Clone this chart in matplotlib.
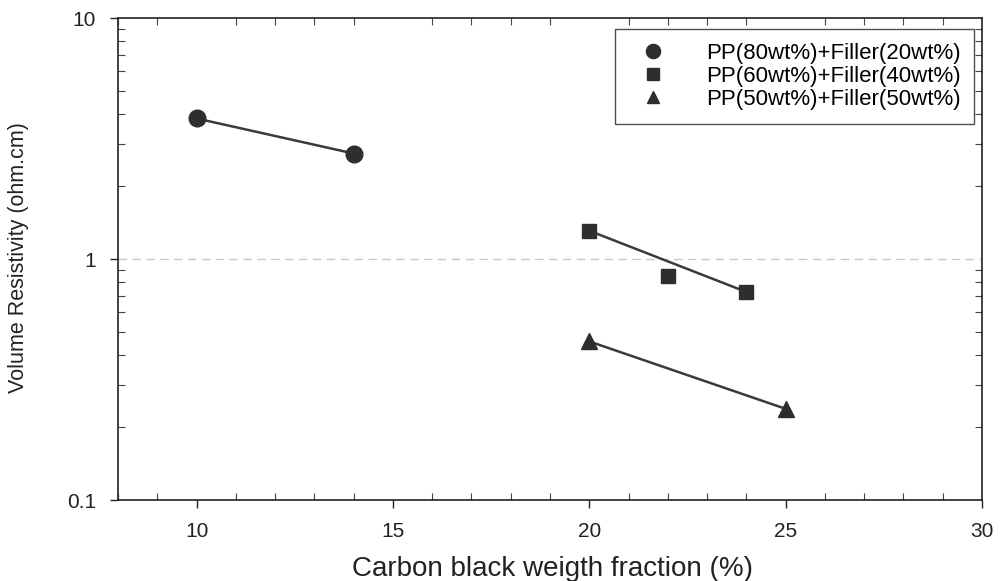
import matplotlib
matplotlib.use("Agg")
import matplotlib.pyplot as plt
from matplotlib.ticker import MultipleLocator, LogLocator, NullFormatter
import numpy as np

plt.rcParams['font.family'] = ['Liberation Sans', 'DejaVu Sans']

labels = ["PP(80wt%)+Filler(20wt%)", "PP(60wt%)+Filler(40wt%)", "PP(50wt%)+Filler(50wt%)"]
x_80 = [10, 14]
y_80 = [3.83, 2.74]
x_60 = [20, 22, 24]
y_60 = [1.31, 0.85, 0.73]
x_50 = [20, 25]
y_50 = [0.455, 0.239]
markers = ['o', 's', '^']
col = '#2e2e2e'

fig = plt.figure(figsize=(10.02, 5.81), dpi=100)
ax = fig.add_axes([0.1178, 0.1394, 0.8622, 0.8296])
ax.set_yscale('log')
ax.set_xlim(8, 30)
ax.set_ylim(0.1, 10)

ax.axhline(1, color='#c8c8c8', lw=1.0, ls=(0, (6, 4)), zorder=0)

series = [(x_80, y_80), (x_60, y_60), (x_50, y_50)]
sizes = [12, 10, 11]
for (xs, ys), m, lab, s in zip(series, markers, labels, sizes):
    ax.plot([xs[0], xs[-1]], [ys[0], ys[-1]], color='#3a3a3a', lw=1.8, zorder=2)
    ax.plot(xs, ys, ls='none', marker=m, ms=s, color=col, mec=col, label=lab, zorder=3)

ax.xaxis.set_major_locator(MultipleLocator(5))
ax.xaxis.set_minor_locator(MultipleLocator(1))
ax.yaxis.set_minor_locator(LogLocator(base=10, subs=np.arange(2, 10)))
ax.yaxis.set_minor_formatter(NullFormatter())
ax.set_yticks([0.1, 1, 10])
ax.set_yticklabels(['0.1', '1', '10'])

ax.tick_params(axis='both', which='major', direction='out', length=6, width=1, labelsize=15, colors='#222222', pad=10)
ax.tick_params(axis='both', which='minor', direction='in', length=5, width=0.8, top=True, right=True, colors='#444444')
ax.tick_params(axis='both', which='major', top=False, right=False)
for sp in ax.spines.values():
    sp.set_linewidth(1.2)
    sp.set_color('#222222')

ax.set_xlabel('Carbon black weigth fraction (%)', fontsize=20, color='#222222', va='center')
ax.xaxis.set_label_coords((553 - 118) / 864.0, (500 - 569) / 482.0)
ax.set_ylabel('Volume Resistivity (ohm.cm)', fontsize=15.5, color='#222222', va='center')
ax.yaxis.set_label_coords((18 - 118) / 864.0, (500 - 258) / 482.0)

leg = ax.legend(loc='upper right', bbox_to_anchor=(0.9985, 0.99), fontsize=16, frameon=True, fancybox=False,
                edgecolor='#222222', borderpad=0.6, labelspacing=0.1, handletextpad=1.3, borderaxespad=0.3,
                handlelength=2.2, markerscale=0.85)
leg.get_frame().set_linewidth(1.0)

fig.savefig('out.png', dpi=100, facecolor='white')
